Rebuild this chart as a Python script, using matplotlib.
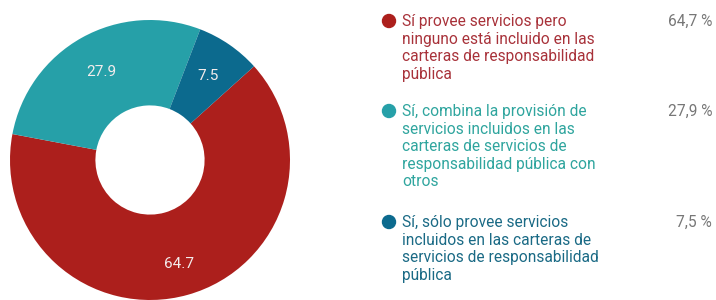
import numpy as np
import matplotlib
matplotlib.use("Agg")
import matplotlib.pyplot as plt

categories = [
    "Sí provee servicios pero\nninguno está incluido en las\ncarteras de responsabilidad\npública",
    "Sí, combina la provisión de\nservicios incluidos en las\ncarteras de servicios de\nresponsabilidad pública con\notros",
    "Sí, sólo provee servicios\nincluidos en las carteras de\nservicios de responsabilidad\npública",
]
values = [64.7, 27.9, 7.5]
donut_labels = ["64.7", "27.9", "7.5"]
legend_values = ["64,7 %", "27,9 %", "7,5 %"]

colors = ["#AC1F1C", "#26A0A8", "#0C6A8E"]
text_colors = ["#A8323A", "#2FA59E", "#1A6A85"]

W, H = 716, 300
fig = plt.figure(figsize=(W / 100, H / 100), dpi=100)
fig.patch.set_facecolor("white")

cx, cy, R = 150, 140, 140
ax = fig.add_axes([(cx - R) / W, (cy - R) / H, 2 * R / W, 2 * R / H])
wedges, _ = ax.pie(values, colors=colors, startangle=42, counterclock=False,
                   radius=1.0, wedgeprops=dict(width=0.61, edgecolor="none"))
ax.set_xlim(-1, 1)
ax.set_ylim(-1, 1)
ax.set_aspect("equal")
ax.axis("off")

label_r = [0.77, 0.72, 0.73]
for w, lab, r in zip(wedges, donut_labels, label_r):
    ang = np.deg2rad((w.theta1 + w.theta2) / 2)
    ax.text(r * np.cos(ang), r * np.sin(ang), lab, ha="center", va="center",
            color="#F3ECEC", fontsize=11, family="Roboto")

# legend
item_tops = [21, 111, 222]
fs = 11.2
for cat, val, col, tcol, top in zip(categories, legend_values, colors, text_colors, item_tops):
    yf = 1 - top / H
    fig.patches.append(matplotlib.patches.Ellipse((389 / W, yf), 13 / W, 13 / H,
                                                  transform=fig.transFigure,
                                                  color=col, zorder=3))
    fig.text(402 / W, 1 - (top - 7) / H, cat, ha="left", va="top", color=tcol,
             fontsize=fs, family="Roboto", linespacing=1.21,
             transform=fig.transFigure)
    fig.text(712 / W, yf, val, ha="right", va="center", color="#777777",
             fontsize=fs, family="Roboto")

fig.savefig("out.png", dpi=100, facecolor="white")
